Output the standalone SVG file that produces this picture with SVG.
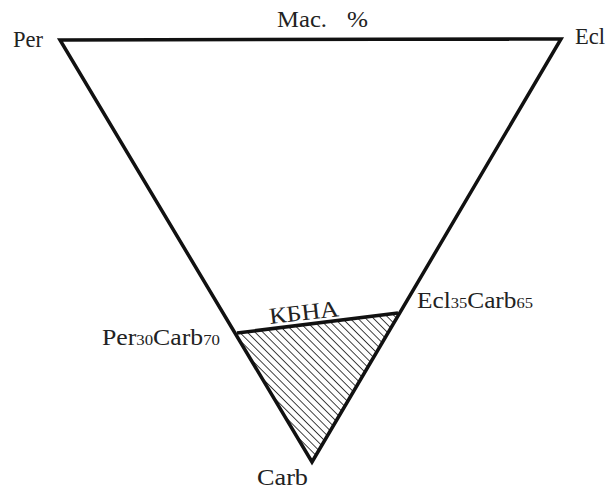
<svg xmlns="http://www.w3.org/2000/svg" width="609" height="492" viewBox="0 0 609 492">
<style>
text{font-family:"Liberation Serif","Times New Roman",serif;font-size:23px;fill:#222}
.s{font-size:15px}
.edge{stroke:#111;stroke-width:3.5;fill:none;stroke-linejoin:miter}
</style>
<defs>
<pattern id="hatch" patternUnits="userSpaceOnUse" width="5.5" height="5.5" patternTransform="rotate(-45)">
<line x1="0" y1="0" x2="0" y2="5.5" stroke="#222" stroke-width="1.7"/>
</pattern>
</defs>
<rect width="609" height="492" fill="#fff"/>
<g id="region">
<polygon points="237,333 398,313 312,462" fill="url(#hatch)"/>
</g>
<g id="connectors">
<polygon class="edge" points="60,40 561,39 312,462"/>
<line class="edge" x1="237" y1="333" x2="398" y2="313" stroke-width="3"/>
</g>
<g id="node-per"><text x="13" y="47" textLength="30" lengthAdjust="spacingAndGlyphs">Per</text></g>
<g id="node-ecl"><text x="575" y="44" textLength="30" lengthAdjust="spacingAndGlyphs">Ecl</text></g>
<g id="node-title"><text x="277" y="27" textLength="50" lengthAdjust="spacingAndGlyphs">Mac.</text><text x="347" y="27" textLength="21" lengthAdjust="spacingAndGlyphs">%</text></g>
<g id="node-carb"><text x="257" y="485" textLength="51" lengthAdjust="spacingAndGlyphs">Carb</text></g>
<g id="node-p30"><text x="102" y="345" textLength="118" lengthAdjust="spacingAndGlyphs">Per<tspan class="s">30</tspan>Carb<tspan class="s">70</tspan></text></g>
<g id="node-e35"><text x="417" y="308" textLength="116" lengthAdjust="spacingAndGlyphs">Ecl<tspan class="s">35</tspan>Carb<tspan class="s">65</tspan></text></g>
<g id="node-kbna"><text x="270" y="324" transform="rotate(-6.5 270 324)" textLength="70" lengthAdjust="spacingAndGlyphs">КБНА</text></g>
</svg>
